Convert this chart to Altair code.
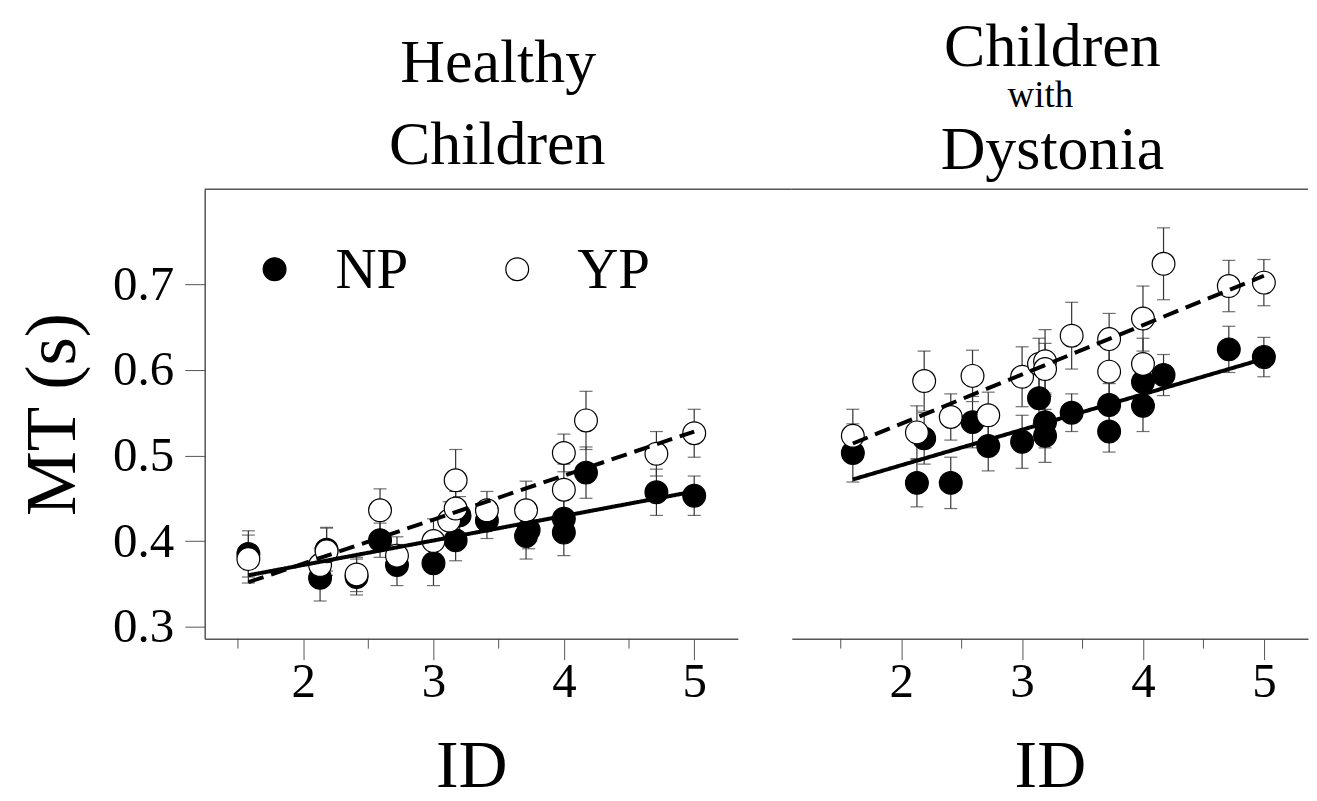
import altair as alt
import pandas as pd

FONT = "Liberation Serif"
LINE = "#555555"
BAR = "#333333"

# ---------------- data ----------------
groups = ["NP", "YP"]
group_fill = ["black", "white"]
major_ticks = [2, 3, 4, 5]
minor_ticks = [1.5, 2.5, 3.5, 4.5]
y_ticks = [0.3, 0.4, 0.5, 0.6, 0.7]

# Healthy children
hc_np_id = [1.58, 2.13, 2.18, 2.41, 2.59, 2.72, 3.00, 3.17, 3.20, 3.41, 3.71, 3.73, 4.00, 4.00, 4.17, 4.71, 5.00]
hc_np_mt = [0.385, 0.357, 0.390, 0.358, 0.401, 0.372, 0.374, 0.401, 0.430, 0.424, 0.406, 0.413, 0.410, 0.426, 0.480, 0.457, 0.453]
hc_np_err = [0.027, 0.027, 0.025, 0.021, 0.020, 0.024, 0.026, 0.024, 0.022, 0.021, 0.027, 0.022, 0.027, 0.024, 0.030, 0.027, 0.023]
hc_yp_id = [1.58, 2.13, 2.18, 2.41, 2.59, 2.72, 3.00, 3.12, 3.17, 3.17, 3.41, 3.71, 4.00, 4.00, 4.17, 4.71, 5.00]
hc_yp_mt = [0.379, 0.372, 0.388, 0.361, 0.436, 0.383, 0.400, 0.424, 0.438, 0.471, 0.436, 0.436, 0.460, 0.503, 0.541, 0.502, 0.526]
hc_yp_err = [0.028, 0.020, 0.028, 0.020, 0.025, 0.022, 0.026, 0.022, 0.020, 0.036, 0.022, 0.034, 0.030, 0.022, 0.034, 0.026, 0.028]

# Children with dystonia
cd_np_id = [1.60, 2.13, 2.19, 2.41, 2.59, 2.72, 3.00, 3.14, 3.19, 3.19, 3.41, 3.72, 3.72, 4.00, 4.00, 4.17, 4.71, 5.00]
cd_np_mt = [0.503, 0.468, 0.520, 0.468, 0.539, 0.511, 0.516, 0.567, 0.539, 0.523, 0.550, 0.559, 0.528, 0.586, 0.558, 0.594, 0.624, 0.615]
cd_np_err = [0.034, 0.028, 0.030, 0.030, 0.030, 0.029, 0.031, 0.030, 0.030, 0.031, 0.022, 0.025, 0.024, 0.030, 0.030, 0.024, 0.027, 0.023]
cd_yp_id = [1.60, 2.13, 2.19, 2.41, 2.59, 2.72, 3.00, 3.14, 3.19, 3.19, 3.41, 3.72, 3.72, 4.00, 4.00, 4.17, 4.71, 5.00]
cd_yp_mt = [0.523, 0.527, 0.587, 0.545, 0.593, 0.547, 0.592, 0.607, 0.610, 0.601, 0.640, 0.636, 0.598, 0.660, 0.607, 0.724, 0.698, 0.702]
cd_yp_err = [0.031, 0.031, 0.035, 0.027, 0.030, 0.027, 0.035, 0.030, 0.037, 0.030, 0.039, 0.030, 0.030, 0.038, 0.030, 0.042, 0.030, 0.027]

# regression line end points
hc_fit_id = [1.58, 5.00]
hc_fit_np = [0.360, 0.458]
hc_fit_yp = [0.352, 0.528]
cd_fit_id = [1.60, 5.00]
cd_fit_np = [0.472, 0.613]
cd_fit_yp = [0.514, 0.710]

Y_DOMAIN = [0.286, 0.811]
H = 450
GAP = 54
W_L, W_R = 534, 517
XD_L = [1.245, 5.335]
XD_R = [1.095, 5.365]


def points_df(np_id, np_mt, np_err, yp_id, yp_mt, yp_err):
    a = pd.DataFrame({"ID": np_id, "MT": np_mt, "err": np_err, "group": "NP"})
    b = pd.DataFrame({"ID": yp_id, "MT": yp_mt, "err": yp_err, "group": "YP"})
    return pd.concat([a, b], ignore_index=True)


def fit_df(ids, np_v, yp_v):
    a = pd.DataFrame({"ID": ids, "MT": np_v, "fit": "NP"})
    b = pd.DataFrame({"ID": ids, "MT": yp_v, "fit": "YP"})
    return pd.concat([a, b], ignore_index=True)


ONE = alt.Data(values=[{}])


def title_text(txt, x, y, size, align="center"):
    return alt.Chart(ONE).mark_text(
        text=txt, font=FONT, fontSize=size, align=align, baseline="alphabetic", color="black"
    ).encode(x=alt.value(x), y=alt.value(y))


def legend_layers():
    out = []
    sym_x = [70, 313]
    lab_x = [131, 373]
    for g, f, sx, lx in zip(groups, group_fill, sym_x, lab_x):
        out.append(
            alt.Chart(ONE).mark_point(
                shape="circle", filled=True, size=520, fill=f, stroke="black",
                strokeWidth=1.2, opacity=1
            ).encode(x=alt.value(sx), y=alt.value(80))
        )
        out.append(title_text(g, lx, 99, 57, align="left"))
    return out


def panel(pts, fit, xdomain, width, show_y, show_legend, titles, border_len):
    xscale = alt.Scale(domain=xdomain, nice=False, zero=False)
    yscale = alt.Scale(domain=Y_DOMAIN, nice=False, zero=False)
    xaxis = alt.Axis(
        values=major_ticks, format="d", tickSize=21, labelPadding=-2,
        labelFont=FONT, labelFontSize=49, labelColor="black",
        title="ID", titleFont=FONT, titleFontSize=68, titleFontWeight="normal",
        titleColor="black", titleY=148, titleBaseline="alphabetic",
        grid=False, domainColor=LINE, domainWidth=1.5, tickColor=LINE, tickWidth=1,
    )
    if show_y:
        yaxis = alt.Axis(
            values=y_ticks, format=".1f", tickSize=20, labelPadding=11,
            labelFont=FONT, labelFontSize=49, labelColor="black",
            title="MT (s)", titleFont=FONT, titleFontSize=73, titleFontWeight="normal",
            titleColor="black", titleX=-130, titleBaseline="alphabetic",
            grid=False, domainColor=LINE, domainWidth=1.5, tickColor=LINE, tickWidth=1,
        )
    else:
        yaxis = None

    base = alt.Chart(pts)
    bars = base.mark_rule(color=BAR, strokeWidth=1.2).encode(
        x=alt.X("ID:Q", scale=xscale, axis=xaxis),
        y=alt.Y("lo:Q", scale=yscale, axis=yaxis),
        y2="hi:Q",
    ).transform_calculate(lo="datum.MT - datum.err", hi="datum.MT + datum.err")
    cap_lo = base.mark_tick(orient="horizontal", size=13, thickness=1.2, color=BAR).encode(
        x=alt.X("ID:Q", scale=xscale), y=alt.Y("lo:Q", scale=yscale)
    ).transform_calculate(lo="datum.MT - datum.err")
    cap_hi = base.mark_tick(orient="horizontal", size=13, thickness=1.2, color=BAR).encode(
        x=alt.X("ID:Q", scale=xscale), y=alt.Y("hi:Q", scale=yscale)
    ).transform_calculate(hi="datum.MT + datum.err")
    dots = base.mark_point(
        shape="circle", filled=True, size=520, stroke="black", strokeWidth=1.2, opacity=1
    ).encode(
        x=alt.X("ID:Q", scale=xscale),
        y=alt.Y("MT:Q", scale=yscale),
        fill=alt.Fill("group:N", scale=alt.Scale(domain=groups, range=group_fill), legend=None),
    )
    lines = alt.Chart(fit).mark_line(color="black", strokeWidth=4, strokeCap="butt").encode(
        x=alt.X("ID:Q", scale=xscale),
        y=alt.Y("MT:Q", scale=yscale),
        strokeDash=alt.StrokeDash("fit:N", scale=alt.Scale(domain=groups, range=[[1, 0], [16, 8]]), legend=None),
        detail="fit:N",
    )
    minor = alt.Chart(pd.DataFrame({"ID": minor_ticks})).mark_rule(color=LINE, strokeWidth=1).encode(
        x=alt.X("ID:Q", scale=xscale), y=alt.value(H), y2=alt.value(H + 10)
    )
    border = alt.Chart(ONE).mark_rule(color=LINE, strokeWidth=1.5).encode(
        x=alt.value(0), x2=alt.value(border_len), y=alt.value(0)
    )
    layers = [bars, cap_lo, cap_hi, dots, lines, minor, border] + [title_text(*t) for t in titles]
    if show_legend:
        layers += legend_layers()
    return alt.layer(*layers).properties(width=width, height=H)


left = panel(
    points_df(hc_np_id, hc_np_mt, hc_np_err, hc_yp_id, hc_yp_mt, hc_yp_err),
    fit_df(hc_fit_id, hc_fit_np, hc_fit_yp),
    XD_L, W_L, True, True,
    [("Healthy", 294, -107, 62), ("Children", 293, -25, 62)],
    W_L + GAP,
)
right = panel(
    points_df(cd_np_id, cd_np_mt, cd_np_err, cd_yp_id, cd_yp_mt, cd_yp_err),
    fit_df(cd_fit_id, cd_fit_np, cd_fit_yp),
    XD_R, W_R, False, False,
    [("Children", 261, -124, 62), ("with", 249, -82, 37), ("Dystonia", 261, -20, 62)],
    W_R,
)

chart = alt.hconcat(left, right, spacing=GAP, bounds="flush").resolve_scale(
    fill="independent", strokeDash="independent", x="independent"
).properties(
    padding={"left": 8, "top": 7, "right": 0, "bottom": 0}
).configure_view(stroke=None)

chart.save("out.html", embed_options={"renderer": "svg", "actions": False})
